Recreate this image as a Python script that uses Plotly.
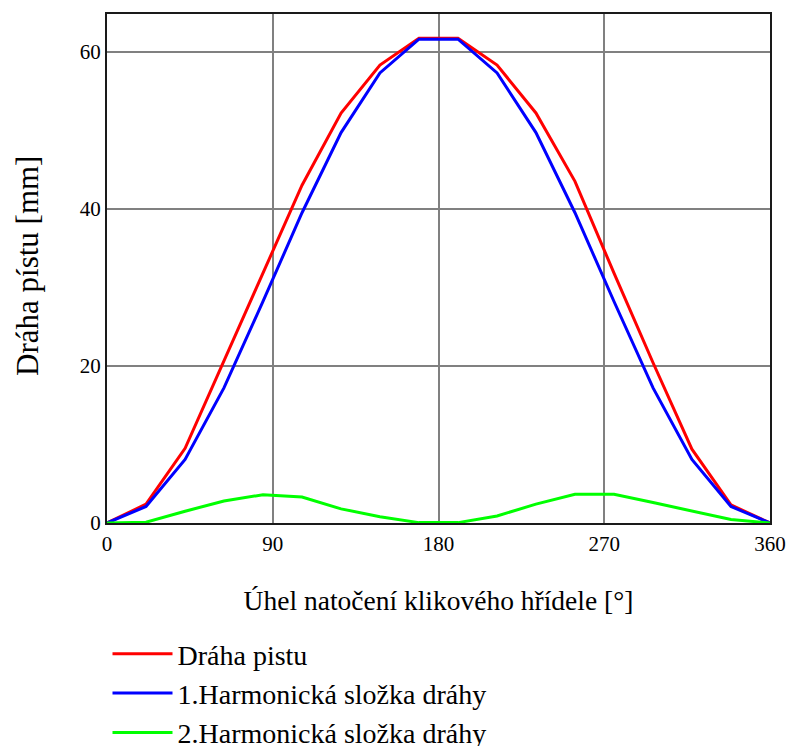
import plotly.graph_objects as go

# Crank angle samples [deg]
angle = [0, 21.2, 42.4, 63.5, 84.7, 105.9, 127.1, 148.2, 169.4,
         190.6, 211.8, 232.9, 254.1, 275.3, 296.5, 317.6, 338.8, 360]

# Piston path [mm]
draha_pistu = [0, 2.4, 9.5, 20.6, 31.8, 43.0, 52.2, 58.3, 61.7,
               61.7, 58.3, 52.2, 43.5, 31.8, 20.4, 9.4, 2.3, 0]
# 1st harmonic component
harm1 = [0, 2.1, 8.1, 17.2, 28.2, 39.5, 49.7, 57.3, 61.6,
         61.6, 57.3, 49.7, 39.5, 28.2, 17.2, 8.1, 2.1, 0]
# 2nd harmonic component
harm2 = [0, 0.1, 1.5, 2.8, 3.6, 3.3, 1.8, 0.8, 0.05,
         0.05, 0.9, 2.4, 3.65, 3.65, 2.6, 1.5, 0.45, 0]

x_ticks = [0, 90, 180, 270, 360]
y_ticks = [0, 20, 40, 60]

FONT = "Liberation Serif"

fig = go.Figure()
fig.add_trace(go.Scatter(x=angle, y=draha_pistu, mode="lines", name="Dráha pistu",
                         line=dict(color="#ff0000", width=3)))
fig.add_trace(go.Scatter(x=angle, y=harm1, mode="lines", name="1.Harmonická složka dráhy",
                         line=dict(color="#0000ff", width=3)))
fig.add_trace(go.Scatter(x=angle, y=harm2, mode="lines", name="2.Harmonická složka dráhy",
                         line=dict(color="#00ff00", width=3)))

axis_common = dict(
    showgrid=True, gridcolor="#808080", gridwidth=1.5,
    showline=True, linecolor="#1a1a1a", linewidth=2, mirror=True,
    zeroline=False, ticks="",
    tickfont=dict(family=FONT, size=21, color="black"),
)

fig.update_xaxes(range=[0, 360], tickvals=x_ticks, ticktext=[str(v) for v in x_ticks],
                 ticklabelstandoff=1,
                 title=dict(text="Úhel natočení klikového hřídele [°]",
                            font=dict(family=FONT, size=27.5, color="black"), standoff=36),
                 **axis_common)
fig.update_yaxes(range=[0, 64.8], tickvals=y_ticks, ticktext=[str(v) for v in y_ticks],
                 ticklabelstandoff=0,
                 **axis_common)

# y-axis title as a rotated annotation (placed left of the tick labels)
fig.add_annotation(text="Dráha pístu [mm]", textangle=-90,
                   xref="paper", yref="paper", x=(28 - 107) / 663, y=0.505,
                   xanchor="center", yanchor="middle", showarrow=False,
                   font=dict(family=FONT, size=31, color="black"))

fig.update_layout(
    width=793, height=746,
    margin=dict(l=107, r=23, t=14, b=223, autoexpand=False),
    paper_bgcolor="white", plot_bgcolor="white",
    showlegend=True,
    legend=dict(x=107.5 / 793, xref="container", xanchor="left",
                y=1 - 629 / 746, yref="container", yanchor="top",
                orientation="v", itemwidth=60,
                font=dict(family=FONT, size=28, color="black"),
                bgcolor="rgba(0,0,0,0)", tracegroupgap=0),
)

fig.write_html("out.html")
